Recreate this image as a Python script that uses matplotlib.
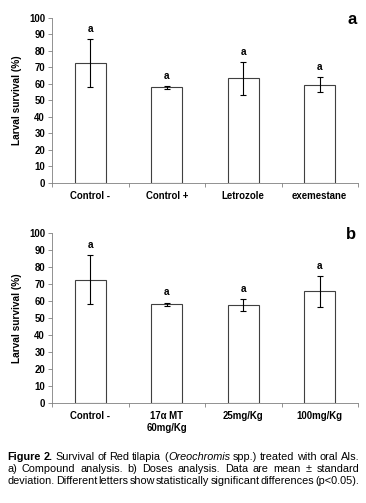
import matplotlib
matplotlib.use("Agg")
import matplotlib.pyplot as plt
import numpy as np

plt.rcParams['font.family'] = ['Liberation Sans', 'DejaVu Sans']

# Data
cats_a = ["Control -", "Control +", "Letrozole", "exemestane"]
means_a = [72.5, 58.0, 63.5, 59.5]
sd_a = [14.5, 1.0, 10.0, 4.5]
letters_a = ["a", "a", "a", "a"]

cats_b = ["Control -", "17α MT\n60mg/Kg", "25mg/Kg", "100mg/Kg"]
means_b = [72.5, 58.0, 57.5, 65.5]
sd_b = [14.5, 1.0, 3.5, 9.0]
letters_b = ["a", "a", "a", "a"]

yticks = list(range(0, 101, 10))

W, H = 366, 503
fig = plt.figure(figsize=(W / 100, H / 100), dpi=100)


def panel(rect, cats, means, sd, letters, tag):
    ax = fig.add_axes(rect)
    x = np.arange(len(cats))
    ax.bar(x, means, width=0.4, color="white", edgecolor="#404040", linewidth=0.8, zorder=2)
    ax.errorbar(x, means, yerr=sd, fmt="none", ecolor="black", elinewidth=0.8,
                capsize=2.5, capthick=0.8, zorder=3)
    for xi, m, s, l in zip(x, means, sd, letters):
        ax.text(xi, m + s + 3, l, ha="center", va="bottom", fontsize=7.2, fontweight="bold")
    ax.set_xlim(-0.5, len(cats) - 0.5)
    ax.set_ylim(0, 100)
    ax.set_yticks(yticks)
    ax.set_yticklabels([str(v) for v in yticks], fontsize=6.9, fontweight="bold")
    ax.set_xticks(x)
    ax.set_xticklabels(cats, fontsize=6.9, fontweight="bold", linespacing=1.2)
    ax.tick_params(axis="x", which="major", length=0, pad=6)
    ax.set_xticks(np.arange(-0.5, len(cats), 1.0), minor=True)
    ax.tick_params(axis="x", which="minor", length=3, color="#808080", width=0.6)
    ax.tick_params(axis="y", length=3, color="#808080", width=0.6, pad=2)
    for s in ["top", "right"]:
        ax.spines[s].set_visible(False)
    for s in ["left", "bottom"]:
        ax.spines[s].set_color("#808080")
        ax.spines[s].set_linewidth(0.6)
    ax.set_ylabel("Larval survival (%)", fontsize=7.3, fontweight="bold", labelpad=5)
    ax.text(0.995, 0.99, tag, transform=ax.transAxes, ha="right", va="center",
            fontsize=12, fontweight="bold")
    return ax


panel([52 / W, 1 - 182.7 / H, 306 / W, 164.7 / H], cats_a, means_a, sd_a, letters_a, "a")
panel([52 / W, 1 - 403 / H, 306 / W, 170.3 / H], cats_b, means_b, sd_b, letters_b, "b")

# Caption (justified)
cap_lines = [
    [("Figure", "bold", "normal"), ("2.", "bold", "normal"), ("Survival", "normal", "normal"),
     ("of", "normal", "normal"), ("Red", "normal", "normal"), ("tilapia", "normal", "normal"),
     ("(", "normal", "normal", True), ("Oreochromis", "normal", "italic"), ("spp.)", "normal", "normal"),
     ("treated", "normal", "normal"), ("with", "normal", "normal"), ("oral", "normal", "normal"),
     ("AIs.", "normal", "normal")],
    [(w, "normal", "normal") for w in
     "a) Compound analysis. b) Doses analysis. Data are mean ± standard".split(" ")],
    [(w, "normal", "normal") for w in
     "deviation. Different letters show statistically significant differences (p<0.05).".split(" ")],
]
cap_fs = 7.8
x0, x1 = 7.5, 359.0
ys = [457, 469, 481]
fig.canvas.draw()
r = fig.canvas.get_renderer()
for words, y in zip(cap_lines, ys):
    texts = []
    widths = []
    for wd in words:
        t = fig.text(0, 1 - y / H, wd[0], fontsize=cap_fs, fontweight=wd[1], fontstyle=wd[2],
                     va="center", ha="left")
        bb = t.get_window_extent(renderer=r)
        texts.append((t, len(wd) > 3 and wd[3]))
        widths.append(bb.width)
    ngaps = sum(1 for (t, g) in texts[:-1] if not g)
    total = sum(widths)
    gap = (x1 - x0 - total) / ngaps
    xpos = x0
    for (t, g), w in zip(texts, widths):
        t.set_x(xpos / W)
        xpos += w + (0.5 if g else gap)

fig.savefig("out.png", dpi=100)
